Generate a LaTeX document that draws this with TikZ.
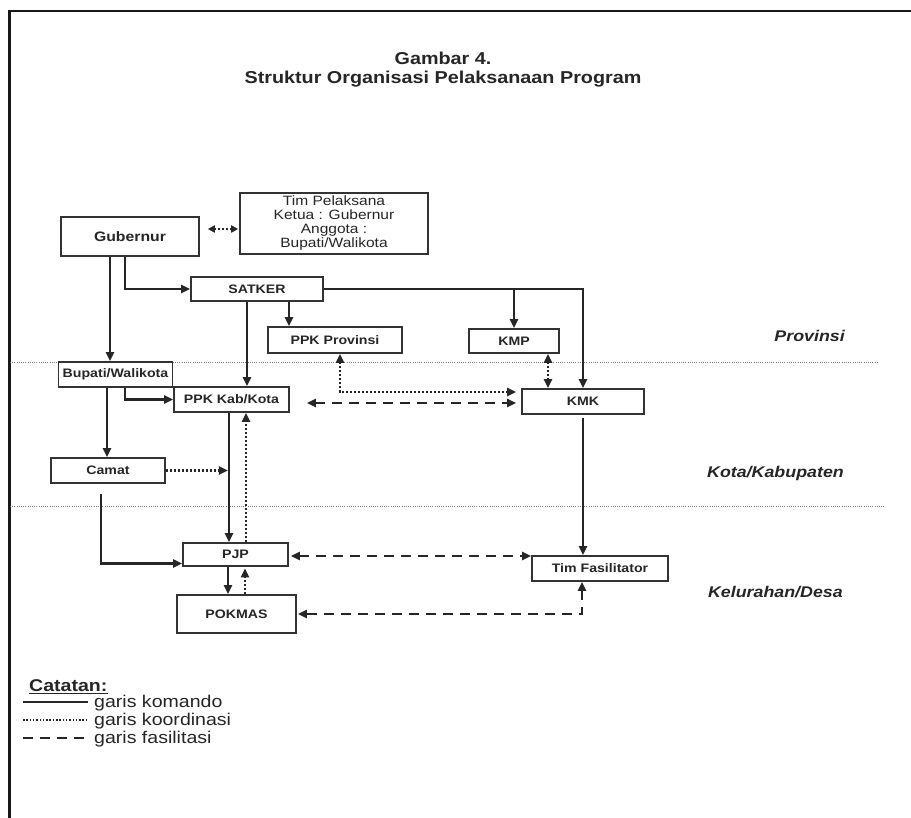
\documentclass[tikz,border=0pt]{standalone}
\usepackage{fontspec}
\setmainfont{Liberation Sans}[FakeStretch=1.15]
\usetikzlibrary{arrows.meta}
\begin{document}
\begin{tikzpicture}[x=1pt,y=-1pt,
  box/.style={draw=black!80, line width=1.6pt, fill=white, inner sep=0pt, text=black!85, font=\bfseries\fontsize{12.3}{14}\selectfont},
  tip/.style={-{Triangle[length=9pt,width=8pt]}},
  btip/.style={{Triangle[length=9pt,width=8pt]}-{Triangle[length=9pt,width=8pt]}},
  cmd/.style={draw=black!85, line width=2.3pt},
  crd/.style={draw=black!85, line width=2.2pt, dash pattern=on 2pt off 2pt},
  fac/.style={draw=black!85, line width=2.3pt, dash pattern=on 10pt off 7pt},
  sep/.style={draw=black!50, line width=0.9pt, dash pattern=on 1pt off 1.2pt},
  lvl/.style={font=\bfseries\itshape\fontsize{15.5}{18}\selectfont, text=black!85, anchor=base east, inner sep=0pt},
  ttl/.style={font=\bfseries\fontsize{17.2}{20}\selectfont, text=black!85, anchor=base, inner sep=0pt},
  leg/.style={font=\fontsize{17}{20}\selectfont, text=black!85, anchor=base west, inner sep=0pt},
  ]
\useasboundingbox (0,0) rectangle (911,818);
\fill[white] (0,0) rectangle (911,818);
% frame
\draw[black!90, line width=2.5pt] (911,11) -- (9.5,11) -- (9.5,818);
% title
\node[ttl] (t1) at (443,65) {Gambar 4.};
\node[ttl] (t2) at (443,84) {Struktur Organisasi Pelaksanaan Program};
% separators
\draw[sep] (10,362) -- (878,362);
\draw[sep] (10,506) -- (885,506);
% level labels
\node[lvl] (lp) at (845,342) {Provinsi};
\node[lvl] (lk) at (844,477) {Kota/Kabupaten};
\node[lvl] (ld) at (843,597) {Kelurahan/Desa};
% boxes
\node[box, minimum width=138pt, minimum height=39pt, font=\bfseries\fontsize{13.7}{16}\selectfont] (gub) at (130,236.5) {Gubernur};
\node[box, minimum width=188pt, minimum height=61pt, align=center, font=\fontsize{13.5}{14}\selectfont] (tim) at (334,223.5) {Tim Pelaksana\\Ketua : Gubernur\\Anggota :\\Bupati/Walikota};
\node[box, minimum width=132pt, minimum height=24pt] (satker) at (257,289) {SATKER};
\node[box, minimum width=134pt, minimum height=26pt] (ppkprov) at (335,340) {PPK Provinsi};
\node[box, minimum width=90pt, minimum height=24pt] (kmp) at (514,341) {KMP};
\node[box, minimum width=122pt, minimum height=25pt] (kmk) at (583,401.5) {KMK};
\node[box, minimum width=114pt, minimum height=25pt] (bup) at (115.5,374.5) {Bupati/Walikota};
\node[box, minimum width=115pt, minimum height=25pt] (ppkkab) at (231.5,399.5) {PPK Kab/Kota};
\node[box, minimum width=114pt, minimum height=25pt] (camat) at (108,470.5) {Camat};
\node[box, minimum width=105pt, minimum height=23pt] (pjp) at (235.5,554.5) {PJP};
\node[box, minimum width=119pt, minimum height=38pt] (pokmas) at (236.5,614) {POKMAS};
\node[box, minimum width=136pt, minimum height=25pt] (timfas) at (600,568.5) {Tim Fasilitator};
% command lines
\draw[cmd,tip] ([xshift=-20pt]gub.south) -- ([xshift=-5.5pt]bup.north);
\draw[cmd,tip] ([xshift=-5pt]gub.south) |- (satker.west);
\draw[cmd,tip] ([xshift=-10pt]satker.south) -- ([xshift=15.5pt]ppkkab.north);
\draw[cmd,tip] ([xshift=32pt]satker.south) -- ([xshift=-46pt]ppkprov.north);
\draw[cmd,tip] (satker.east) -| (kmk.north);
\draw[cmd,tip] (satker.east -| kmp.north) -- (kmp.north);
\draw[cmd,tip] ([xshift=9.5pt]bup.south) |- (ppkkab.west);
\draw[cmd,tip] ([xshift=-8.5pt]bup.south) -- ([xshift=-1pt]camat.north);
\draw[cmd,tip] ([xshift=-2.5pt]ppkkab.south) -- ([xshift=-6.5pt]pjp.north);
\coordinate (cl) at ([xshift=-6.5pt]pjp.north);
\draw[cmd,tip] ([xshift=-7pt,yshift=-10pt]camat.south) |- ([yshift=-9pt]pjp.west);
\draw[cmd,tip] ([xshift=-7.5pt]pjp.south) -- ([xshift=-8.5pt]pokmas.north);
\draw[cmd,tip] ([yshift=-3pt]kmk.south) -- ([xshift=-17pt]timfas.north);
% coordination lines
\draw[crd,{Triangle[length=7pt,width=7pt]}-{Triangle[length=7pt,width=7pt]}] ([xshift=8pt,yshift=7.5pt]gub.east) -- ([xshift=-1pt,yshift=-5.5pt]tim.west);
\draw[crd,btip] ([xshift=5pt]ppkprov.south) |- ([xshift=-5pt,yshift=9.5pt]kmk.west);
\draw[crd,btip] ([xshift=34pt]kmp.south) -- ([xshift=-35pt]kmk.north);
\draw[crd,tip] (camat.east) -- ([xshift=-1.2pt]cl |- camat.east);
\draw[crd,tip] ([xshift=10.5pt]pjp.north) -- ([xshift=14.5pt]ppkkab.south);
\draw[crd,tip] ([xshift=8.5pt]pokmas.north) -- ([xshift=9.5pt,yshift=-1.5pt]pjp.south);
% facilitation lines
\draw[fac,btip] ([xshift=17pt,yshift=-3.5pt]ppkkab.east) -- ([xshift=-5pt,yshift=-1.5pt]kmk.west);
\draw[fac,btip] ([xshift=2pt,yshift=-1.5pt]pjp.east) -- ([yshift=12.5pt]timfas.west);
\draw[fac,btip] ([xshift=-18pt]timfas.south) |- ([xshift=1pt]pokmas.east);
% legend
\node[font=\bfseries\fontsize{17}{20}\selectfont, text=black!85, anchor=base west, inner sep=0pt] (cat) at (29,691) {Catatan:};
\draw[black!85, line width=1.5pt] ([yshift=-2.5pt]cat.base west) -- ([yshift=-2.5pt]cat.base east);
\coordinate (l1a) at (23,702); \coordinate (l1b) at (88,702);
\coordinate (l2a) at (23,720); \coordinate (l2b) at (88,720);
\coordinate (l3a) at (23,738); \coordinate (l3b) at (88,738);
\draw[black!85, line width=2pt] (l1a) -- (l1b);
\draw[black!85, line width=1.8pt, dash pattern=on 1.5pt off 1.8pt] (l2a) -- (l2b);
\draw[black!85, line width=2pt, dash pattern=on 10pt off 7pt] (l3a) -- (l3b);
\node[leg] (g1) at (94,707) {garis komando};
\node[leg] (g2) at (94,725) {garis koordinasi};
\node[leg] (g3) at (94,743) {garis fasilitasi};
\end{tikzpicture}
\end{document}
